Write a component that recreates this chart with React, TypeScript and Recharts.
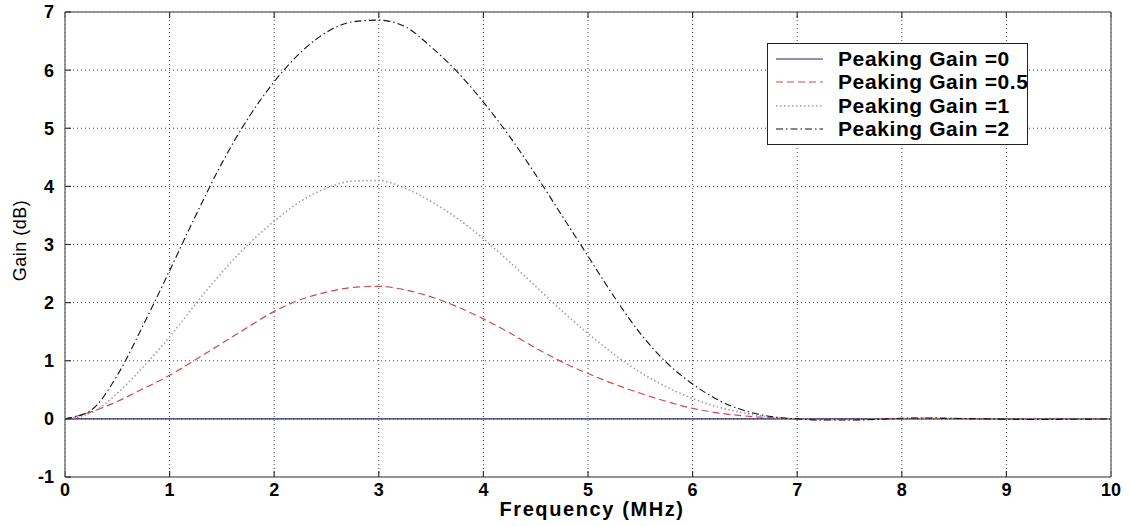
import React from 'react';
import { LineChart, Line, XAxis, YAxis, CartesianGrid } from 'recharts';

const freq = [
  0, 0.25, 0.5, 0.75, 1, 1.25, 1.5, 1.75, 2, 2.25, 2.5, 2.75, 3, 3.25, 3.5, 3.75, 4, 4.25, 4.5, 4.75,
  5, 5.25, 5.5, 5.75, 6, 6.25, 6.5, 6.75, 7, 7.25, 7.5, 7.75, 8, 8.25, 8.5, 8.75, 9, 9.25, 9.5, 9.75, 10,
];

const gain0 = [
  0, 0, 0, 0, 0, 0, 0, 0, 0, 0, 0, 0, 0, 0, 0, 0, 0, 0, 0, 0,
  0, 0, 0, 0, 0, 0, 0, 0, 0, 0, 0, 0, 0, 0, 0, 0, 0, 0, 0, 0, 0,
];

const gain05 = [
  0, 0.12, 0.3, 0.52, 0.75, 1.02, 1.3, 1.58, 1.85, 2.05, 2.18, 2.26, 2.28, 2.22, 2.1, 1.93, 1.72, 1.48, 1.22, 0.98,
  0.78, 0.6, 0.44, 0.3, 0.18, 0.1, 0.05, 0.02, 0, -0.01, -0.01, -0.005, 0.005, 0.008, 0.005, 0, -0.003, -0.005, -0.004, -0.002, 0,
];

const gain1 = [
  0, 0.1, 0.44, 0.9, 1.41, 1.98, 2.52, 3.0, 3.4, 3.74, 3.97, 4.09, 4.1, 3.97, 3.74, 3.45, 3.1, 2.7, 2.28, 1.86,
  1.47, 1.11, 0.8, 0.55, 0.35, 0.2, 0.1, 0.03, 0, -0.015, -0.015, -0.008, 0.008, 0.012, 0.008, 0, -0.004, -0.008, -0.006, -0.004, 0,
];

const gain2 = [
  0, 0.15, 0.75, 1.62, 2.55, 3.5, 4.4, 5.17, 5.8, 6.3, 6.65, 6.83, 6.86, 6.75, 6.4, 5.97, 5.45, 4.86, 4.2, 3.5,
  2.8, 2.1, 1.47, 0.97, 0.6, 0.32, 0.14, 0.04, 0, -0.02, -0.02, -0.01, 0.01, 0.015, 0.01, 0, -0.005, -0.01, -0.008, -0.005, 0,
];

const seriesKeys = ['g0', 'g05', 'g1', 'g2'];
const seriesNames = ['Peaking Gain =0', 'Peaking Gain =0.5', 'Peaking Gain =1', 'Peaking Gain =2'];
const seriesColors = ['#23236e', '#d04848', '#a0a0a0', '#111111'];
const seriesDashes = ['', '7 4', '1.5 2.5', '7 3 1.5 3'];
const seriesWidths = [1.2, 1.2, 1.6, 1.1];

const xTicks = [0, 1, 2, 3, 4, 5, 6, 7, 8, 9, 10];
const yTicks = [-1, 0, 1, 2, 3, 4, 5, 6, 7];

const data = freq.map((f, i) => ({
  f,
  g0: gain0[i],
  g05: gain05[i],
  g1: gain1[i],
  g2: gain2[i],
}));

const FONT = '"Liberation Sans", Arial, Helvetica, sans-serif';
const tickStyle = { fontSize: 18, fontWeight: 'bold', fill: '#000', fontFamily: FONT };
const axisColor = '#777';
const EmptyTick = () => <g />;

const LegendBox = () => (
  <div
    style={{
      position: 'absolute',
      left: 767,
      top: 43,
      width: 261,
      height: 102,
      border: '1.5px solid #222',
      background: '#fff',
      boxSizing: 'border-box',
      paddingTop: 3,
      fontFamily: FONT,
      fontWeight: 'bold',
      fontSize: 21,
      letterSpacing: 0.6,
      color: '#000',
    }}
  >
    {seriesNames.map((name, i) => (
      <div key={name} style={{ height: 23.5, display: 'flex', alignItems: 'center', whiteSpace: 'nowrap' }}>
        <svg width={62} height={10} style={{ marginLeft: 8, flex: 'none' }}>
          <line
            x1={0}
            y1={5}
            x2={47}
            y2={5}
            stroke={seriesColors[i]}
            strokeWidth={seriesWidths[i]}
            strokeDasharray={seriesDashes[i] || undefined}
          />
        </svg>
        <span>{name}</span>
      </div>
    ))}
  </div>
);

export default function App() {
  return (
    <div style={{ position: 'absolute', left: 0, top: 0, width: 1130, height: 526, background: '#fff' }}>
      <LineChart width={1130} height={526} data={data} margin={{ top: 11, right: 18, bottom: 0, left: 0 }}>
        <CartesianGrid
          xAxisId="bottom"
          yAxisId="left"
          stroke="#444"
          strokeDasharray="1 3"
          strokeWidth={1}
        />
        <XAxis
          xAxisId="bottom"
          dataKey="f"
          type="number"
          domain={[0, 10]}
          ticks={xTicks}
          interval={0}
          height={49}
          axisLine={{ stroke: axisColor, strokeWidth: 1.5 }}
          tickLine={{ stroke: '#333', strokeWidth: 1.2 }}
          tickSize={-6}
          tickMargin={12}
          tick={tickStyle}
          label={{
            content: (props: any) => {
              const vb = props.viewBox || {};
              return (
                <text
                  x={vb.x + vb.width / 2 + 4}
                  y={vb.y + 39}
                  textAnchor="middle"
                  fontFamily={FONT}
                  fontWeight="bold"
                  fontSize={20}
                  letterSpacing={1.6}
                  fill="#000"
                >
                  Frequency (MHz)
                </text>
              );
            },
          }}
        />
        <XAxis
          xAxisId="top"
          orientation="top"
          dataKey="f"
          type="number"
          domain={[0, 10]}
          ticks={xTicks}
          interval={0}
          height={1}
          axisLine={{ stroke: axisColor, strokeWidth: 1.5 }}
          tickLine={{ stroke: '#333', strokeWidth: 1.2 }}
          tickSize={-6}
          tick={<EmptyTick />}
        />
        <YAxis
          yAxisId="left"
          type="number"
          domain={[-1, 7]}
          ticks={yTicks}
          interval={0}
          width={65}
          axisLine={{ stroke: axisColor, strokeWidth: 1.5 }}
          tickLine={{ stroke: '#333', strokeWidth: 1.2 }}
          tickSize={-6}
          tickMargin={17}
          tick={tickStyle}
          label={{
            content: (props: any) => {
              const vb = props.viewBox || {};
              const cy = vb.y + vb.height / 2 - 4;
              return (
                <text
                  x={20}
                  y={cy}
                  transform={`rotate(-90, 20, ${cy})`}
                  textAnchor="middle"
                  dominantBaseline="central"
                  fontFamily={FONT}
                  fontSize={18}
                  letterSpacing={0.5}
                  fill="#000"
                >
                  Gain (dB)
                </text>
              );
            },
          }}
        />
        <YAxis
          yAxisId="right"
          orientation="right"
          type="number"
          domain={[-1, 7]}
          ticks={yTicks}
          interval={0}
          width={1}
          axisLine={{ stroke: axisColor, strokeWidth: 1.5 }}
          tickLine={{ stroke: '#333', strokeWidth: 1.2 }}
          tickSize={-6}
          tick={<EmptyTick />}
        />
        {seriesKeys.map((k, i) => (
          <Line
            key={k}
            xAxisId="bottom"
            yAxisId="left"
            dataKey={k}
            name={seriesNames[i]}
            type="monotone"
            stroke={seriesColors[i]}
            strokeWidth={seriesWidths[i]}
            strokeDasharray={seriesDashes[i] || undefined}
            dot={false}
            activeDot={false}
            isAnimationActive={false}
          />
        ))}
      </LineChart>
      <LegendBox />
    </div>
  );
}
